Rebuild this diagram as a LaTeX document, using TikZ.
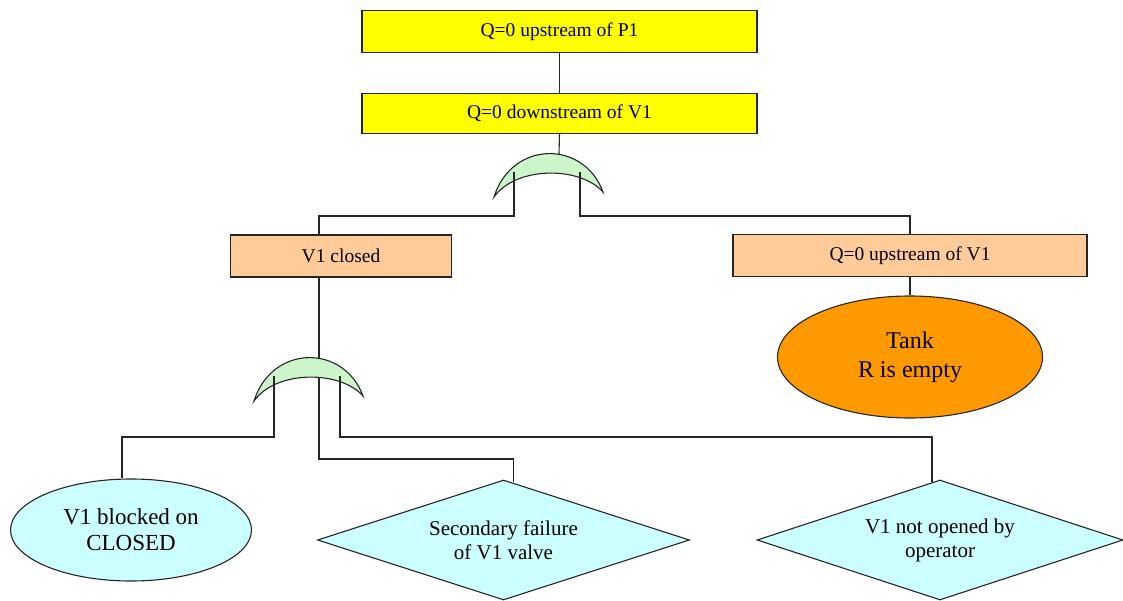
\documentclass[tikz,border=0pt]{standalone}
\usepackage{fontspec}
\setmainfont{Liberation Serif}
\newfontfamily\evfont{Liberation Serif}
\usetikzlibrary{shapes.geometric}
\definecolor{evyellow}{HTML}{FFFF00}
\definecolor{evpeach}{HTML}{FFCC99}
\definecolor{evorange}{HTML}{FF9900}
\definecolor{evcyan}{HTML}{CCFFFF}
\definecolor{gategreen}{HTML}{CCF5CC}
\tikzset{
  event/.style={draw=black!85,line width=1.1pt,rectangle,inner sep=0pt,
    font=\evfont\fontsize{19.5}{23}\selectfont},
  topev/.style={event,fill=evyellow,minimum width=395pt,minimum height=42pt},
  midev/.style={event,fill=evpeach,minimum height=42pt},
  basic/.style={draw=black!85,line width=1.1pt,ellipse,inner sep=0pt,align=center},
  undev/.style={draw=black!85,line width=1.1pt,diamond,aspect=3.1,inner sep=0pt,
    align=center,fill=evcyan,minimum width=372pt,minimum height=120pt,
    font=\evfont\fontsize{21}{24}\selectfont},
  wire/.style={line width=1.1pt,black!85},
  orgate/.pic={
    \draw[line width=1.1pt,black!85,fill=gategreen]
      (-54,43) .. controls (-36,-14) and (36,-14) .. (55,38)
      .. controls (32,12) and (-32,12) .. cycle;
    \coordinate (-top) at (11,0);
    \coordinate (-l) at (-34,18);
    \coordinate (-r) at (32,18);
  }
}
\begin{document}
\begin{tikzpicture}[x=1pt,y=-1pt]
\useasboundingbox (0,0) rectangle (1123,601);
% top of the tree
\node[topev] (top) at (559.5,31.5) {Q=0 upstream of P1};
\node[topev,minimum height=40pt] (down) at (559.5,113.5) {Q=0 downstream of V1};
\draw[wire] (top.south) -- (down.north);
% intermediate events
\node[midev,minimum width=221pt] (closed) at (341,256) {V1 closed};
\node[midev,minimum width=354pt] (upv) at (910,255.5) {Q=0 upstream of V1};
\node[basic,fill=evorange,minimum width=265pt,minimum height=122pt,
  font=\evfont\fontsize{24}{29}\selectfont] (tank) at (910,357) {Tank\\R is empty};
% basic and undeveloped events
\node[basic,fill=evcyan,minimum width=241pt,minimum height=102pt,
  font=\evfont\fontsize{23}{26}\selectfont] (blocked) at (131,530) {V1 blocked on\\CLOSED};
\node[undev] (second) at (503.5,540) {Secondary failure\\of V1 valve};
\node[undev,minimum width=366pt] (oper) at (940,540) {V1 not opened by\\operator};
% wires behind the gates
\draw[wire] ([xshift=-22pt]closed.south) -- (319,459) -| ([xshift=10pt,yshift=-3pt]second.north);
\pic (g1) at (548,154) {orgate};
\pic (g2) at (308,358) {orgate};
\draw[wire] (down.south) -- (g1-top);
\draw[wire] (g1-l) -- (514,216) -| ([xshift=-22pt]closed.north);
\draw[wire] (g1-r) -- (580,216) -| (upv.north);
\draw[wire] (upv.south) -- (tank.north);
\draw[wire] (319,377) -- (319,459);
\draw[wire] (g2-l) -- (274,437) -| ([xshift=-9pt]blocked.north);
\draw[wire] (g2-r) -- (340,437) -| ([xshift=-8pt,yshift=-2.5pt]oper.north);
\end{tikzpicture}
\end{document}
